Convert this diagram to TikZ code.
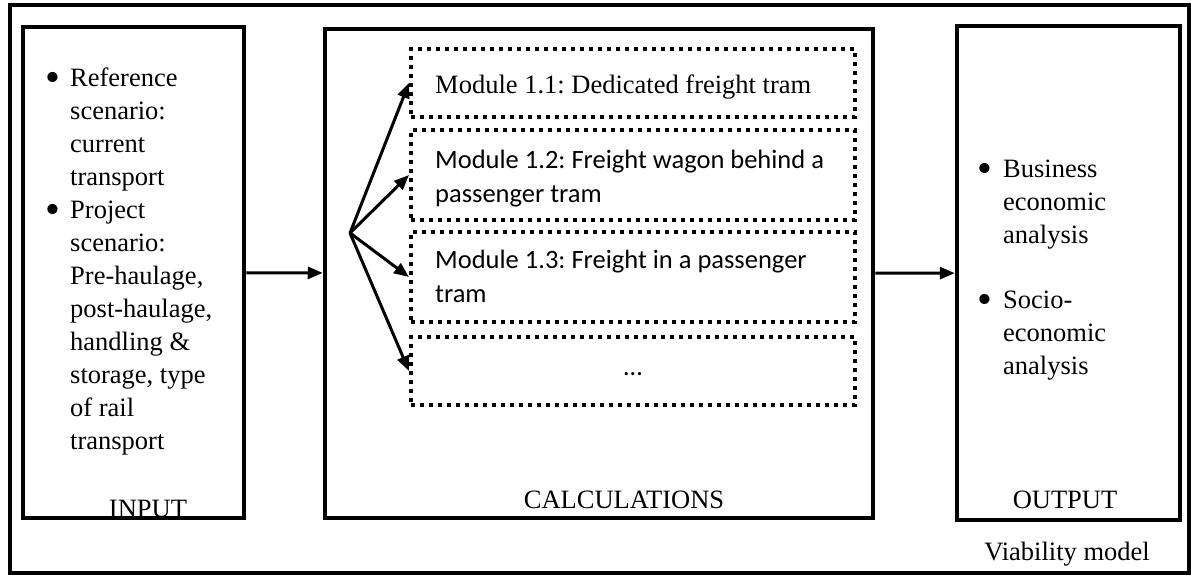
\documentclass[tikz,border=0pt]{standalone}
\usepackage{fontspec}
\setmainfont{Liberation Serif}
\newfontfamily\modfont{Carlito}
\usepackage{tikz}
\usetikzlibrary{arrows.meta,positioning}
\newcommand\bul{\raisebox{-5pt}{\scalebox{1.6}{\textbullet}}}

\begin{document}
\frenchspacing
\begin{tikzpicture}[x=1pt, y=-1pt,
  font=\fontsize{26.5}{33}\selectfont,
  arr/.style={-{Triangle[length=15pt, width=12pt]}, line width=3pt},
  bigbox/.style={draw, line width=4.5pt, inner sep=0pt},
  modbox/.style={draw, line width=4pt, dash pattern=on 4pt off 5pt,
    inner sep=0pt, minimum width=444pt},
  modtxt/.style={anchor=base west, inner sep=0pt, align=left,
    font=\modfont\fontsize{26.5}{34}\selectfont},
  lbl/.style={anchor=base, inner sep=0pt},
  lst/.style={anchor=north west, inner sep=0pt, align=left}]
\useasboundingbox (0,0) rectangle (1191,576);
\fill[white] (0,0) rectangle (1191,576);
% ---- outer frame ----
\node[draw, line width=4pt, inner sep=0pt, minimum width=1179pt,
  minimum height=568pt] (frame) at (599.5,289) {};
\node[lbl] (viab) at (1067,560) {Viability model};
% ---- input column ----
\node[bigbox, minimum width=221pt, minimum height=491pt] (input) at (133.5,272.5) {};
\node[lst] (inlist) at (36,63) {\strut\makebox[34pt][c]{\bul}Reference\\
  \hspace*{34pt}scenario:\\ \hspace*{34pt}current\\ \hspace*{34pt}transport\\
  \makebox[34pt][c]{\bul}Project\\ \hspace*{34pt}scenario:\\
  \hspace*{34pt}Pre-haulage,\\ \hspace*{34pt}post-haulage,\\
  \hspace*{34pt}handling \&\\ \hspace*{34pt}storage, type\\
  \hspace*{34pt}of rail\\ \hspace*{34pt}transport};
\node[lbl] (inlab) at (148,517) {INPUT};
% ---- calculation modules ----
\node[bigbox, minimum width=548pt, minimum height=489pt] (calc) at (599,273.5) {};
\node[modbox, minimum height=68pt] (m11) at (633,83) {};
\node[modbox, minimum height=90pt] (m12) at (633,175) {};
\node[modbox, minimum height=90pt] (m13) at (633,277) {};
\node[modbox, minimum height=68pt] (mmore) at (633,371) {};
\node[modtxt, font=\fontsize{26.5}{33}\selectfont] (t11) at (435,93)
  {Module 1.1: Dedicated freight tram};
\node[modtxt] (t12) at (435,168) {Module 1.2: Freight wagon behind a};
\node[modtxt] (t12b) at (435,202) {passenger tram};
\node[modtxt] (t13) at (435,268) {Module 1.3: Freight in a passenger};
\node[modtxt] (t13b) at (435,302) {tram};
\node[modtxt, anchor=base] (tmore) at (mmore.center |- 0,375) {\dots};
\node[lbl] (calclab) at (624,508) {CALCULATIONS};
% fan of arrows into the modules
\coordinate (fan) at (350,233);
\foreach \m in {m11,m12,m13,mmore}
  \draw[arr] (fan) -- (\m.west);
% ---- output column ----
\node[bigbox, minimum width=223pt, minimum height=494pt] (output) at (1068.5,273) {};
\node[lst] (outlist) at (967,154) {\strut\makebox[36pt][c]{\bul}Business\\
  \hspace*{36pt}economic\\ \hspace*{36pt}analysis\\[32pt]
  \makebox[36pt][c]{\bul}Socio-\\ \hspace*{36pt}economic\\
  \hspace*{36pt}analysis};
\node[lbl] (outlab) at (1065,508) {OUTPUT};
% ---- main flow ----
\draw[arr] (input) -- (calc);
\draw[arr] (calc) -- (output);
\end{tikzpicture}
\end{document}
